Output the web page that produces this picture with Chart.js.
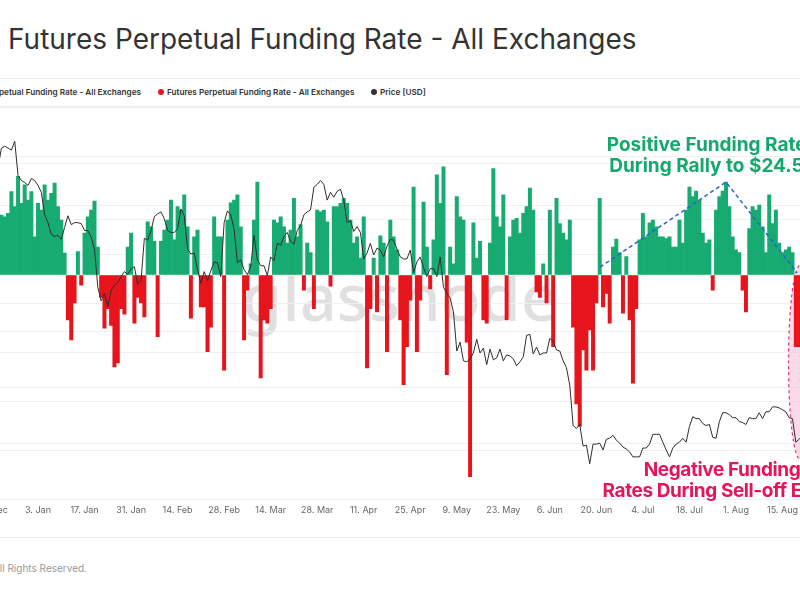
<!DOCTYPE html>
<html><head><meta charset="utf-8">
<script src="https://cdn.jsdelivr.net/npm/chart.js@4.4.0/dist/chart.umd.min.js"></script>
<style>
html,body{margin:0;padding:0;background:#fff;}
#page{position:relative;width:800px;height:600px;overflow:hidden;font-family:Inter,"Noto Sans",sans-serif;}
#title{position:absolute;left:8px;top:21px;font-size:28px;color:#333;white-space:nowrap;line-height:36px;}
.hr{position:absolute;left:0;width:800px;height:1px;background:#ececec;}
.leg{position:absolute;top:86px;height:12px;font-size:8.2px;font-weight:600;color:#333;white-space:nowrap;display:flex;align-items:center;line-height:12px;}
.dot{width:6px;height:6px;border-radius:50%;margin-right:3px;flex:none;}
#wm{position:absolute;left:0;width:800px;text-align:center;top:264px;font-size:65px;line-height:65px;color:rgba(0,0,0,0.12);font-family:"Noto Sans",sans-serif;font-weight:500;white-space:nowrap;}
#chartBox{position:absolute;left:-120px;top:100px;width:1040px;height:429px;z-index:1;}
.note{position:absolute;font-weight:700;font-size:19px;line-height:21px;text-align:center;white-space:nowrap;z-index:2;width:300px;}
#footer{position:absolute;right:713px;top:562px;font-size:10px;line-height:12px;color:#999;white-space:nowrap;}
</style></head>
<body>
<div id="page">
  <div id="title">Futures Perpetual Funding Rate - All Exchanges</div>
  <div class="hr" style="top:78px"></div>
  <div class="leg" style="right:659px"><span class="dot" style="background:#16a870"></span><span>Futures Perpetual Funding Rate - All Exchanges</span></div>
  <div class="leg" style="left:158px"><span class="dot" style="background:#e8141c"></span><span>Futures Perpetual Funding Rate - All Exchanges</span></div>
  <div class="leg" style="left:371px"><span class="dot" style="background:#333"></span><span>Price [USD]</span></div>
  <div class="hr" style="top:106px"></div>
  <div id="wm">glassnode</div>
  <div id="chartBox"><canvas id="c" width="1040" height="429"></canvas></div>
  <div class="note" style="left:562px;top:134px;color:#15a86c">Positive Funding Rates<br>During Rally to $24.5k</div>
  <div class="note" style="left:572px;top:459px;color:#e6145a;letter-spacing:-0.4px">Negative Funding<br>Rates During Sell-off Event</div>
  <div class="hr" style="top:537px"></div>
  <div id="footer">© 2022 Glassnode. All Rights Reserved.</div>
</div>
<script>
// Day numbers are counted from 3 Jan 2022 (day 0); data runs daily from 13 Dec 2021 (day -21) to 22 Aug 2022.
const firstDay = -21;
const tickDays = [-28,-14,0,14,28,42,56,70,84,98,112,126,140,154,168,182,196,210,224,238];
const tickLabels = ['6. Dec','20. Dec','3. Jan','17. Jan','31. Jan','14. Feb','28. Feb','14. Mar','28. Mar','11. Apr','25. Apr','9. May','23. May','6. Jun','20. Jun','4. Jul','18. Jul','1. Aug','15. Aug','29. Aug'];

// Funding rate, % (daily)
const fundingRate = [
 0.009,0.011,0.008,0.012,0.010,0.007,0.009,0.012,0.010,0.011,
 0.0107,0.0104,0.011,0.0149,0.0122,0.0176,0.0128,0.0161,0.0134,0.0149,0.0068,
 0.0128,0.0116,0.0161,0.0134,0.0146,0.0164,0.0122,0.0098,0.0039,
 -0.008,-0.0116,-0.005,0.0042,-0.0018,0.0075,0.0104,0.0116,0.0132,0.005,-0.004,
 -0.0095,-0.006,-0.009,-0.0164,-0.0157,-0.006,-0.007,0.005,0.0075,-0.0086,
 -0.004,-0.005,-0.0075,0.0095,0.0086,0.006,-0.011,0.006,0.008,0.0098,
 0.0134,0.0063,0.0122,0.0116,0.0143,0.0086,-0.0077,0.0068,0.008,-0.0057,
 -0.0057,-0.0137,-0.0093,0.0104,0.0068,0.0068,-0.017,0.0098,0.0129,0.0134,
 0.0143,0.0086,-0.0116,-0.0027,0.002,0.0098,0.0166,-0.0184,-0.008,-0.0086,
 -0.006,0.0098,0.0093,0.0104,0.0086,0.0057,0.008,0.0137,0.0068,0.009,
 -0.0027,0.0057,0.004,-0.006,0.0116,0.0113,0.0116,0.0095,-0.002,0.0122,
 0.0122,0.0128,0.0137,0.0128,0.0098,0.0057,0.0068,0.003,0.0104,-0.0166,
 -0.006,0.003,-0.0066,0.007,0.0057,-0.0137,0.0098,0.0068,0.0045,-0.008,
 -0.0196,-0.0128,-0.0045,0.0157,-0.0137,-0.0045,0.013,0.005,-0.0025,0.0063,
 0.0179,0.0128,0.0193,-0.0178,0.005,0.002,0.014,0.0104,0.0098,-0.012,
 -0.036,0.0093,0.003,0.006,-0.008,-0.0086,0.0057,0.019,0.0104,0.0086,
 0.0143,-0.008,0.0068,0.0098,0.0101,0.0075,0.011,0.0122,0.0155,0.0116,
 -0.003,-0.004,0.002,-0.005,0.0116,-0.0128,0.0137,0.0092,0.0075,0.0063,
 0.0098,-0.0093,-0.023,-0.027,-0.0134,-0.017,-0.0098,-0.017,-0.005,0.0137,
 -0.0057,-0.0033,-0.0086,0.005,0.0064,0.004,-0.0068,0.0033,-0.008,-0.0193,
 -0.006,0.0063,0.011,0.0068,0.0093,0.0098,0.0086,0.0068,0.0068,0.0065,
 0.0068,0.005,0.005,0.0098,0.0057,0.0116,0.0157,0.014,0.015,0.0134,
 0.0075,0.0057,0.0063,-0.0027,0.0116,0.014,0.015,0.0166,0.0122,0.0068,
 0.0045,0.004,-0.0027,-0.0066,0.0083,0.0122,0.0116,0.0125,0.0086,0.004,
 0.0143,0.0092,0.0116,0.0057,0.004,0.0045,0.005,0.004,-0.0128,-0.0128,-0.010,-0.008
];

// Price [USD] (daily)
const priceUSD = [
 46700,48400,48900,47600,46200,46800,46700,46900,49000,48900,50800,51000,50800,50600,51500,48000,47500,47300,47000,
 47700,47500,47000,46300,44000,43200,42000,41800,41900,41500,42700,43900,43000,43200,43200,43100,42400,42400,41700,40500,36600,35200,36000,34600,36300,36800,37100,37700,38200,37900,38500,
 38700,36900,37300,41600,41400,42400,43800,44100,44300,43600,42400,42200,42200,42600,44600,43900,40500,40000,40100,38400,37000,38200,37300,38300,39200,39100,37700,43200,
 44400,44000,42500,39100,39400,38400,37900,38700,41900,39400,38800,38800,37800,39700,39300,41100,40900,41800,42200,41300,41000,42400,42900,44000,44300,44500,46800,47100,47500,47100,45500,
 46300,45800,46400,46600,45500,43200,43400,42300,42800,42200,39500,40100,41100,39900,40600,40400,39700,40800,41500,41400,40500,39700,39500,39500,40400,38100,39200,39700,38600,37700,
 38500,38500,37700,39700,36600,36000,35500,34100,30100,31000,29100,29000,29300,29900,31300,29900,30400,28700,30300,29200,29400,30300,29100,29700,29600,29300,28600,29000,29500,31700,31800,
 29800,30500,29700,29900,29900,31400,31100,30200,30100,29100,28400,26600,22500,22200,22600,20400,20500,18600,20600,20600,20700,20000,21100,21200,21500,21000,20700,20300,20100,19800,
 19300,19300,19300,20200,20200,20600,21600,21600,21600,20800,20000,19300,20200,20600,20800,21200,20800,22400,23400,23200,23200,22700,22500,22600,21300,21200,22900,23800,23800,23600,23300,
 23300,22900,22800,22600,23300,23200,23200,23800,23200,23900,23900,24400,24400,24300,24100,23900,23300,23200,20800,21100,21500,21400
];

// Annotation shapes, in data units (day, funding rate %)
const rallyLine = [{day:169.1, rate:0.0014},{day:207, rate:0.0166},{day:228.4, rate:0.0004}];
const selloffEllipse = {day:229.4, rate:-0.0156, dayRadius:3.6, rateRadius:0.0174};

// Horizontal view: the plot is wider than the page; day 0 sits at canvas px 158, 3.3237 px per day
const viewDay0Px = 158, viewPxPerDay = 3.3237;
const dayAtCanvasPx = px => (px - viewDay0Px) / viewPxPerDay;

const posPts = fundingRate.map((v,i)=>({x:firstDay+i, y: v>0 ? v : null}));
const negPts = fundingRate.map((v,i)=>({x:firstDay+i, y: v<0 ? v : null}));
const pricePts = priceUSD.map((v,i)=>({x:firstDay+i, y:v}));

const annot = {
  id:'annot',
  beforeDatasetsDraw(chart){
    const {ctx, scales:{x, yRate}} = chart;
    const cx = x.getPixelForValue(selloffEllipse.day), cy = yRate.getPixelForValue(selloffEllipse.rate);
    const rx = Math.abs(x.getPixelForValue(selloffEllipse.day + selloffEllipse.dayRadius) - cx);
    const ry = Math.abs(yRate.getPixelForValue(selloffEllipse.rate + selloffEllipse.rateRadius) - cy);
    ctx.save();
    ctx.beginPath(); ctx.ellipse(cx, cy, rx, ry, 0, 0, Math.PI*2);
    ctx.fillStyle = 'rgba(244,170,205,0.45)'; ctx.fill();
    ctx.setLineDash([3,3]); ctx.lineWidth = 1.2; ctx.strokeStyle = '#e0307c'; ctx.stroke();
    ctx.restore();
  },
  afterDatasetsDraw(chart){
    const {ctx, scales:{x, yRate}} = chart;
    ctx.save();
    ctx.beginPath();
    rallyLine.forEach((p,i)=>{
      const px = x.getPixelForValue(p.day), py = yRate.getPixelForValue(p.rate);
      if(i===0) ctx.moveTo(px,py); else ctx.lineTo(px,py);
    });
    ctx.setLineDash([4,3]); ctx.lineWidth = 1.5; ctx.strokeStyle = '#2b5fd9'; ctx.stroke();
    ctx.restore();
  }
};

const chart = new Chart(document.getElementById('c'), {
  data:{
    datasets:[
      {type:'line', label:'Price [USD]', data:pricePts, yAxisID:'yPrice', borderColor:'#2e2e2e', borderWidth:1, pointRadius:0, tension:0, order:0},
      {type:'bar', label:'Futures Perpetual Funding Rate - All Exchanges', data:posPts, yAxisID:'yRate', backgroundColor:'#17ab71', borderWidth:0, grouped:false, barPercentage:1, categoryPercentage:1, order:1},
      {type:'bar', label:'Futures Perpetual Funding Rate - All Exchanges', data:negPts, yAxisID:'yRate', backgroundColor:'#e8141c', borderWidth:0, grouped:false, barPercentage:1, categoryPercentage:1, order:2}
    ]
  },
  options:{
    responsive:false, animation:false, events:[],
    layout:{padding:{top:7,left:0,right:0,bottom:0}},
    plugins:{legend:{display:false}, tooltip:{enabled:false}},
    scales:{
      x:{type:'linear', offset:false, min:dayAtCanvasPx(0), max:dayAtCanvasPx(1040),
        afterBuildTicks(axis){ axis.ticks = tickDays.map(v=>({value:v})); },
        afterFit(s){ s.height = 30; },
        grid:{display:false, drawTicks:false, offset:false}, border:{display:false},
        ticks:{autoSkip:false, maxRotation:0, padding:6, color:'#666', font:{family:'Inter', size:9},
          callback(v){ const k = tickDays.indexOf(v); return k>=0 ? tickLabels[k] : ''; }}
      },
      yRate:{type:'linear', position:'left', min:-0.04, max:0.03,
        afterFit(s){ s.width = 0; },
        ticks:{display:false, stepSize:0.01}, border:{display:false},
        grid:{color:'#f0f0f0', drawTicks:false}
      },
      yPrice:{type:'linear', position:'right', min:15000, max:55000,
        afterFit(s){ s.width = 0; },
        ticks:{display:false, stepSize:5000}, border:{display:false},
        grid:{color:'#f0f0f0', drawTicks:false}
      }
    }
  },
  plugins:[annot]
});
// match the visible day window to the plot area that the layout produced
for (let k = 0; k < 4; k++) {
  const {left, right} = chart.chartArea;
  chart.options.scales.x.min = dayAtCanvasPx(left);
  chart.options.scales.x.max = dayAtCanvasPx(right);
  chart.update('none');
}
</script>
</body></html>
